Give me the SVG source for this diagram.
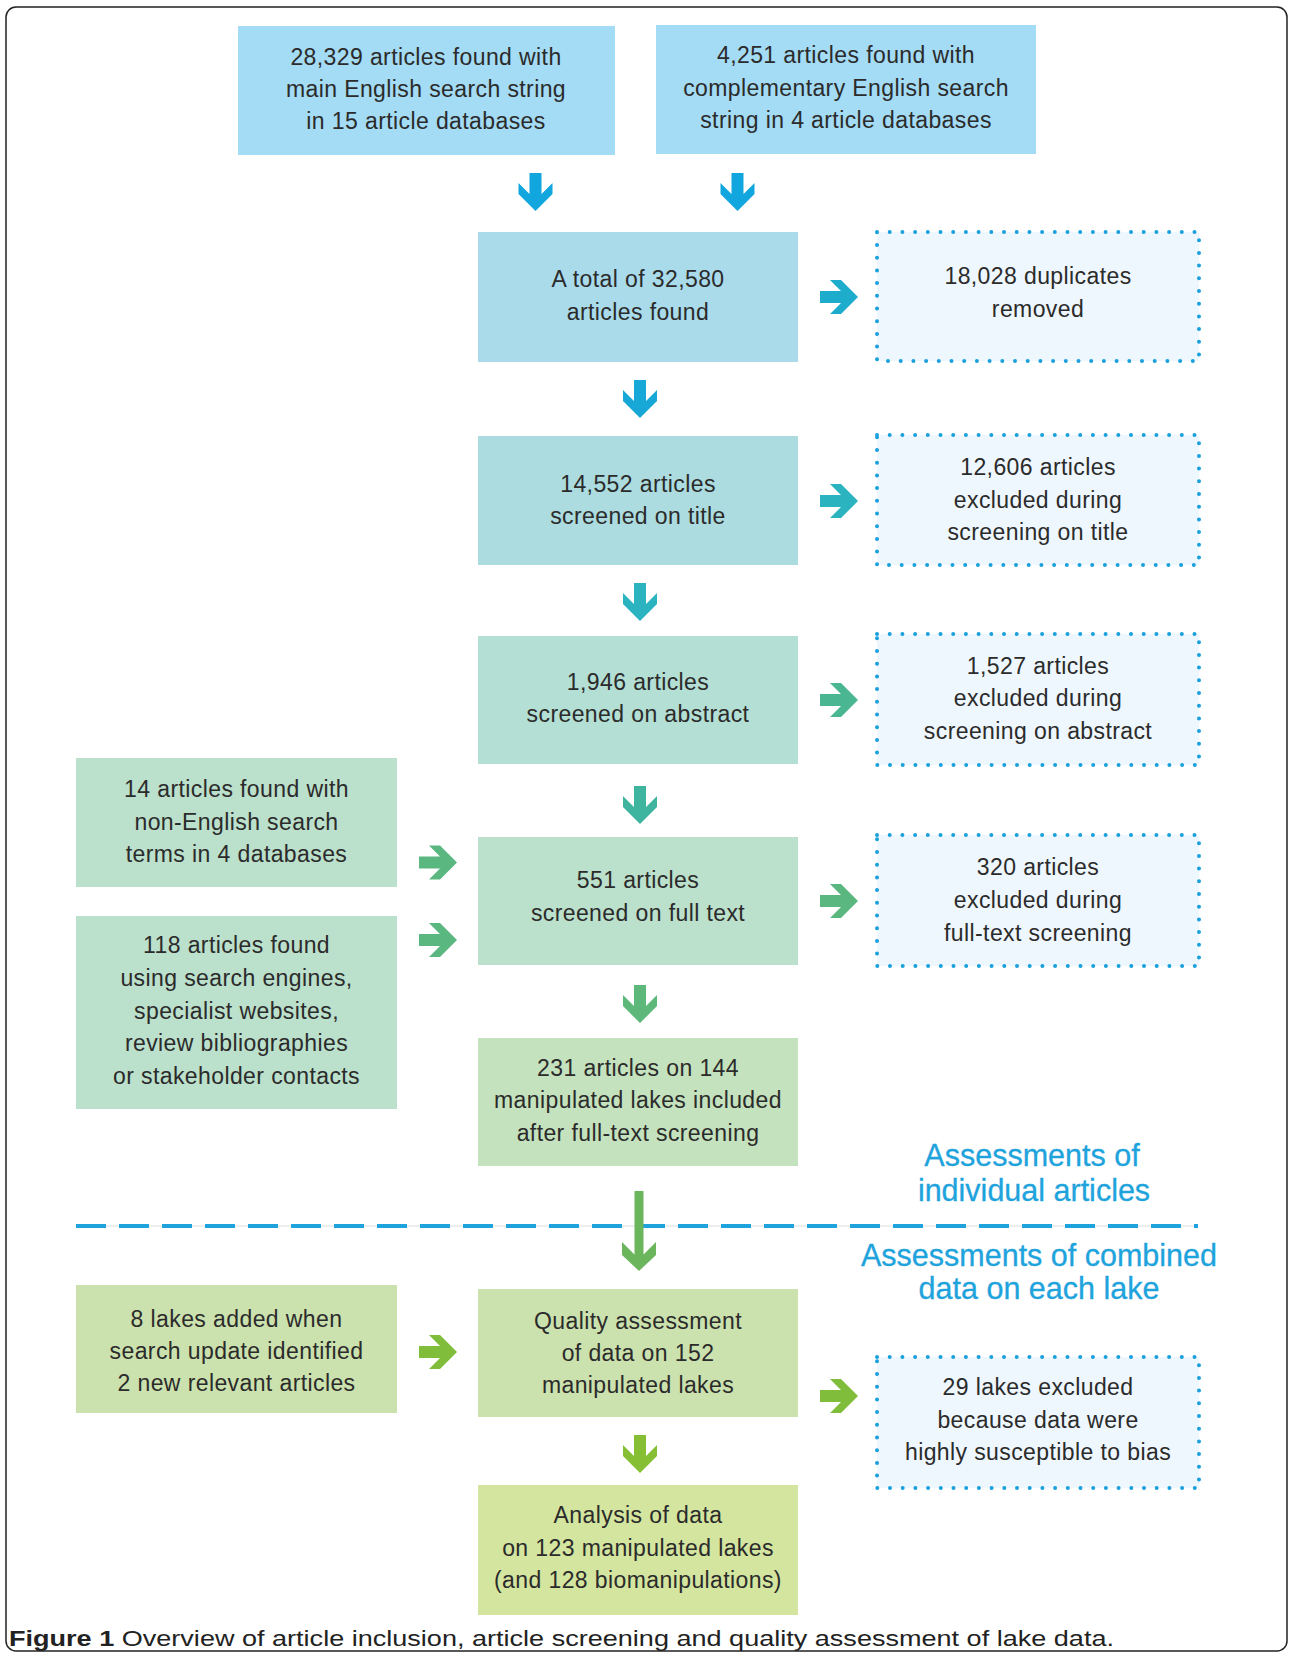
<svg xmlns="http://www.w3.org/2000/svg" width="1292" height="1657" viewBox="0 0 1292 1657">
<style>
.t{font-family:"Liberation Sans",Arial,sans-serif;font-size:23px;letter-spacing:0.4px;fill:#2b2b2b;text-anchor:middle}
.h{font-family:"Liberation Sans",Arial,sans-serif;font-size:30.5px;fill:#1ea3dc;text-anchor:middle;stroke:#1ea3dc;stroke-width:0.3}
.dot{fill:#eef7fd;stroke:#1aa0dc;stroke-width:4;stroke-dasharray:0 12.7;stroke-linecap:round}
.cap{font-family:"Liberation Sans",Arial,sans-serif;font-size:21.5px;fill:#222}
</style>
<defs>
<path id="ad" d="M -6,0 H 6 V 21 L 17,10 V 21 L 0,38 L -17,21 V 10 L -6,21 Z"/>
<path id="al" d="M -4.5,0 H 4.5 V 63.5 L 17,51 V 64 L 0,80 L -17,64 V 51 L -4.5,63.5 Z"/>
</defs>
<rect width="1292" height="1657" fill="#fff"/>
<rect x="6" y="7" width="1281" height="1644" rx="10" fill="none" stroke="#222" stroke-width="1.5"/>

<g id="n1"><rect x="238" y="26" width="377" height="129" fill="#a4dbf5"/>
<text class="t" x="426" y="65">28,329 articles found with</text><text class="t" x="426" y="97">main English search string</text><text class="t" x="426" y="129">in 15 article databases</text></g>
<g id="n2"><rect x="656" y="25" width="380" height="129" fill="#a4dbf5"/>
<text class="t" x="846" y="63">4,251 articles found with</text><text class="t" x="846" y="95.5">complementary English search</text><text class="t" x="846" y="128">string in 4 article databases</text></g>
<g id="n3"><rect x="478" y="232" width="320" height="130" fill="#a9dbeb"/>
<text class="t" x="638" y="287">A total of 32,580</text><text class="t" x="638" y="320">articles found</text></g>
<g id="n4"><rect x="877" y="232" width="322" height="129" class="dot"/>
<text class="t" x="1038" y="284">18,028 duplicates</text><text class="t" x="1038" y="317">removed</text></g>
<g id="n5"><rect x="478" y="436" width="320" height="129" fill="#acdcdf"/>
<text class="t" x="638" y="492">14,552 articles</text><text class="t" x="638" y="524">screened on title</text></g>
<g id="n6"><rect x="877" y="435" width="322" height="130" class="dot"/>
<text class="t" x="1038" y="475">12,606 articles</text><text class="t" x="1038" y="508">excluded during</text><text class="t" x="1038" y="540">screening on title</text></g>
<g id="n7"><rect x="478" y="636" width="320" height="128" fill="#b3dfd4"/>
<text class="t" x="638" y="690">1,946 articles</text><text class="t" x="638" y="722">screened on abstract</text></g>
<g id="n8"><rect x="877" y="634" width="322" height="131" class="dot"/>
<text class="t" x="1038" y="674">1,527 articles</text><text class="t" x="1038" y="706">excluded during</text><text class="t" x="1038" y="739">screening on abstract</text></g>
<g id="n9"><rect x="76" y="758" width="321" height="129" fill="#bbe0cb"/>
<text class="t" x="236.5" y="797">14 articles found with</text><text class="t" x="236.5" y="829.5">non-English search</text><text class="t" x="236.5" y="862">terms in 4 databases</text></g>
<g id="n10"><rect x="76" y="916" width="321" height="193" fill="#bbe0cb"/>
<text class="t" x="236.5" y="953">118 articles found</text><text class="t" x="236.5" y="986">using search engines,</text><text class="t" x="236.5" y="1018.5">specialist websites,</text><text class="t" x="236.5" y="1051">review bibliographies</text><text class="t" x="236.5" y="1083.5">or stakeholder contacts</text></g>
<g id="n11"><rect x="478" y="837" width="320" height="128" fill="#bbe0cb"/>
<text class="t" x="638" y="888">551 articles</text><text class="t" x="638" y="921">screened on full text</text></g>
<g id="n12"><rect x="877" y="835" width="322" height="131" class="dot"/>
<text class="t" x="1038" y="875">320 articles</text><text class="t" x="1038" y="908">excluded during</text><text class="t" x="1038" y="941">full-text screening</text></g>
<g id="n13"><rect x="478" y="1038" width="320" height="128" fill="#c4e2bd"/>
<text class="t" x="638" y="1076">231 articles on 144</text><text class="t" x="638" y="1108">manipulated lakes included</text><text class="t" x="638" y="1141">after full-text screening</text></g>
<g id="labels">
<text class="h" x="1032" y="1166">Assessments of</text><text class="h" x="1034" y="1201">individual articles</text>
<text class="h" x="1039" y="1266">Assessments of combined</text><text class="h" x="1039" y="1299">data on each lake</text>
</g>
<g id="n14"><rect x="76" y="1285" width="321" height="128" fill="#cbe2ae"/>
<text class="t" x="236.5" y="1327">8 lakes added when</text><text class="t" x="236.5" y="1359">search update identified</text><text class="t" x="236.5" y="1391">2 new relevant articles</text></g>
<g id="n15"><rect x="478" y="1289" width="320" height="128" fill="#cbe2ae"/>
<text class="t" x="638" y="1329">Quality assessment</text><text class="t" x="638" y="1361">of data on 152</text><text class="t" x="638" y="1393">manipulated lakes</text></g>
<g id="n16"><rect x="877" y="1357" width="322" height="131" class="dot"/>
<text class="t" x="1038" y="1395">29 lakes excluded</text><text class="t" x="1038" y="1428">because data were</text><text class="t" x="1038" y="1460">highly susceptible to bias</text></g>
<g id="n17"><rect x="478" y="1485" width="320" height="130" fill="#d4e59f"/>
<text class="t" x="638" y="1523">Analysis of data</text><text class="t" x="638" y="1556">on 123 manipulated lakes</text><text class="t" x="638" y="1588">(and 128 biomanipulations)</text></g>

<g id="connectors">
<line x1="76" y1="1226" x2="1198" y2="1226" stroke="#dcdcdc" stroke-width="1"/>
<line x1="76" y1="1226" x2="1198" y2="1226" stroke="#1ea3dc" stroke-width="4" stroke-dasharray="30 13"/>
<use href="#ad" transform="translate(535.5,173)" fill="#12a6de"/>
<use href="#ad" transform="translate(737.5,173)" fill="#12a6de"/>
<use href="#ad" transform="translate(640,380)" fill="#17a8d8"/>
<use href="#ad" transform="translate(820,297) rotate(-90)" fill="#1eaccd"/>
<use href="#ad" transform="translate(640,583)" fill="#2bb3bf"/>
<use href="#ad" transform="translate(820,501) rotate(-90)" fill="#2bb3bf"/>
<use href="#ad" transform="translate(640,786)" fill="#3fb49e"/>
<use href="#ad" transform="translate(820,700) rotate(-90)" fill="#4ab692"/>
<use href="#ad" transform="translate(419,862.5) rotate(-90)" fill="#5ab780"/>
<use href="#ad" transform="translate(419,940) rotate(-90)" fill="#5ab780"/>
<use href="#ad" transform="translate(820,901) rotate(-90)" fill="#5ab780"/>
<use href="#ad" transform="translate(640,985)" fill="#5db87a"/>
<use href="#al" transform="translate(639,1191)" fill="#6bb65c"/>
<use href="#ad" transform="translate(419,1352) rotate(-90)" fill="#80bd3a"/>
<use href="#ad" transform="translate(820,1396) rotate(-90)" fill="#80bd3a"/>
<use href="#ad" transform="translate(640,1435)" fill="#86bf34"/>
</g>
<text class="cap" x="9" y="1646" textLength="1105" lengthAdjust="spacingAndGlyphs"><tspan font-weight="bold">Figure 1</tspan> Overview of article inclusion, article screening and quality assessment of lake data.</text>
</svg>
